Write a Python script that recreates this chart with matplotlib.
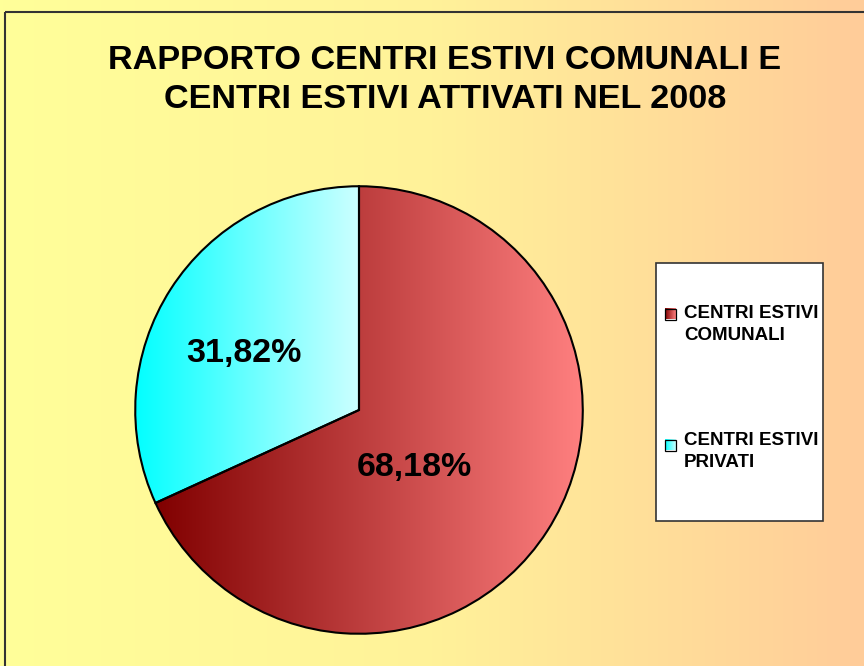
#plot.py - pie chart of summer centres (comunali vs privati), 2008
import numpy as np
import matplotlib.pyplot as plt
from matplotlib.colors import LinearSegmentedColormap
from matplotlib.patches import Rectangle

#SECTION1: data
labels = ['CENTRI ESTIVI\nCOMUNALI', 'CENTRI ESTIVI\nPRIVATI']
values = [68.18, 31.82]
pct_text = ['68,18%', '31,82%']
title = 'RAPPORTO CENTRI ESTIVI COMUNALI E\nCENTRI ESTIVI ATTIVATI NEL 2008'

#gradient colours (left -> right)
grad_colors = [('#800000', '#FF8080'), ('#00FFFF', '#CCFFFF')]

plt.rcParams['font.family'] = ['Liberation Sans', 'DejaVu Sans']

W, H = 864, 666
fig = plt.figure(figsize=(W / 100, H / 100), dpi=100)

#SECTION2: background gradient (yellow -> peach)
bg = fig.add_axes([0, 0, 1, 1])
bg_cmap = LinearSegmentedColormap.from_list('bg', ['#FFFF99', '#FFF29A', '#FFCC99'])
grad = np.linspace(0, 1, 256).reshape(1, -1)
bg.imshow(grad, cmap=bg_cmap, aspect='auto', extent=[0, W, H, 0])
bg.axis('off')
# chart frame
bg.add_patch(Rectangle((5, 12), W, H, fill=False, edgecolor='#333333', linewidth=1.5))

#SECTION3: pie
cx, cy, r = 359, 410, 226
ax = fig.add_axes([(cx - r) / W, (H - cy - r) / H, 2 * r / W, 2 * r / H])
wedges, _ = ax.pie(values, startangle=90, counterclock=False, radius=1,
                   wedgeprops=dict(edgecolor='black', linewidth=1.5, facecolor='none'))
ax.set_xlim(-1.01, 1.01)
ax.set_ylim(-1.01, 1.01)

# gradient fill spanning each wedge's own horizontal extent
for w, (c0, c1) in zip(wedges, grad_colors):
    cmap = LinearSegmentedColormap.from_list('g', [c0, c1])
    verts = w.get_path().vertices
    x0, x1 = verts[:, 0].min(), verts[:, 0].max()
    im = ax.imshow(grad, cmap=cmap, aspect='auto', extent=[x0, x1, -1, 1], zorder=0)
    im.set_clip_path(w)

# percentage labels
ax.text(0.247, -0.258, pct_text[0], ha='center', va='center', fontsize=24.5, fontweight='bold')
ax.text(-0.515, 0.253, pct_text[1], ha='center', va='center', fontsize=24.5, fontweight='bold')
ax.axis('off')

#SECTION4: title
fig.text(445 / W, 1 - 80 / H, title, ha='center', va='center', fontsize=24.7,
         fontweight='bold', linespacing=1.36)

#SECTION5: legend (box, gradient markers, labels)
bg.add_patch(Rectangle((656, 263), 167, 258, facecolor='white', edgecolor='#333333',
                       linewidth=1.2))
marker_y = [314, 445]
text_y = [305, 432]
for my, ty, lab, (c0, c1) in zip(marker_y, text_y, labels, grad_colors):
    cmap = LinearSegmentedColormap.from_list('lg', [c0, c1])
    bg.imshow(grad, cmap=cmap, aspect='auto', extent=[665, 676, my + 5.5, my - 5.5], zorder=3)
    bg.add_patch(Rectangle((665, my - 5.5), 11, 11, fill=False, edgecolor='black',
                           linewidth=0.9, zorder=4))
    bg.text(684, ty, lab, ha='left', va='top', fontsize=13.5, fontweight='bold',
            linespacing=1.42, zorder=4)
bg.set_xlim(0, W)
bg.set_ylim(H, 0)

plt.savefig('out.png', dpi=100)
